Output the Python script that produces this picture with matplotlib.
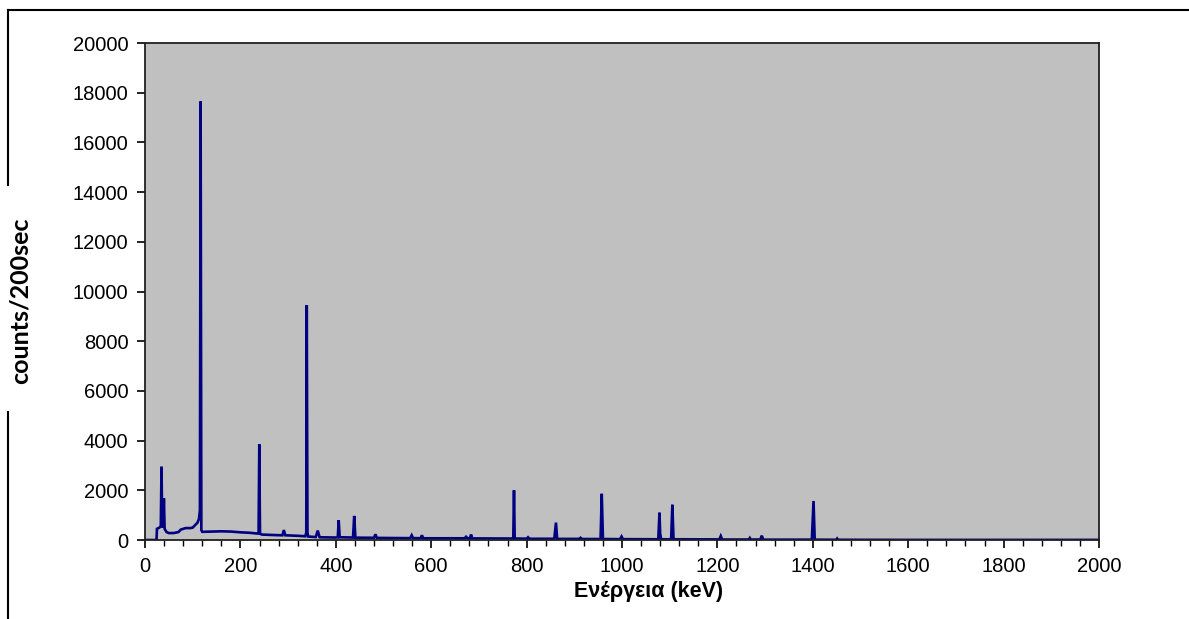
import matplotlib.pyplot as plt
from matplotlib.lines import Line2D
from matplotlib.ticker import MultipleLocator

# spectrum trace (energy in keV, counts per 200 s)
energy = [0, 24, 25, 30, 33, 34.5, 36, 38, 39.5, 41, 45, 50, 60, 70, 75, 85, 95,
          100, 105, 110, 113, 115, 116.5, 118, 120, 140, 160, 180, 200, 220, 236,
          238, 239.5, 241, 245, 270, 288, 291, 294, 320, 336, 338, 339, 340.5, 342,
          358, 362, 366, 400, 404, 406, 408, 436, 438.5, 441, 480, 483, 486, 556,
          559, 562, 578, 580.5, 583, 670, 673, 676, 681, 683.5, 686, 770, 772,
          773.5, 775, 800, 803, 806, 858, 861.5, 864, 910, 913, 916, 955, 957.5,
          960, 996, 999, 1002, 1076, 1078.5, 1080, 1082, 1103, 1105.5, 1108, 1204,
          1207, 1210, 1266, 1268, 1270, 1290, 1293, 1296, 1398, 1401.5, 1404, 1449,
          1451, 1453, 1600, 2000]
counts = [0, 0, 450, 500, 550, 2950, 600, 500, 1680, 450, 320, 280, 280, 320, 420,
          480, 480, 500, 600, 700, 850, 1200, 17650, 400, 330, 340, 350, 340, 310,
          290, 260, 280, 3850, 250, 220, 200, 190, 400, 190, 170, 150, 300, 9450,
          300, 140, 120, 380, 110, 100, 110, 800, 110, 100, 970, 95, 90, 230, 85,
          75, 190, 75, 75, 190, 70, 70, 130, 70, 70, 220, 65, 60, 80, 2000, 60, 55,
          110, 50, 50, 700, 45, 45, 90, 40, 40, 1860, 40, 35, 140, 35, 30, 1100,
          250, 30, 30, 1420, 30, 25, 160, 20, 20, 80, 20, 20, 175, 15, 15, 1570, 15,
          10, 60, 10, 5, 5]

x_ticks = list(range(0, 2001, 200))
y_ticks = list(range(0, 20001, 2000))

plt.rcParams['font.family'] = ['Liberation Sans', 'DejaVu Sans']

fig = plt.figure(figsize=(11.89, 6.19), dpi=100)
ax = fig.add_axes([0.122, 0.1276, 0.8023, 0.8029])
ax.set_facecolor('#C0C0C0')

ax.plot(energy, counts, color='#000080', lw=1.9, solid_joinstyle='miter')

ax.set_xlim(0, 2000)
ax.set_ylim(0, 20000)
ax.set_xticks(x_ticks)
ax.set_yticks(y_ticks)
ax.xaxis.set_minor_locator(MultipleLocator(40))
ax.tick_params(axis='both', which='major', direction='out', length=6, width=1.2,
               labelsize=14.5, colors='black', pad=6)
ax.tick_params(axis='x', which='minor', direction='out', length=4, width=1.0)
for s in ax.spines.values():
    s.set_linewidth(1.3)
    s.set_color('#202020')

ax.set_xlabel('Ενέργεια (keV)', fontsize=15.5, fontweight='bold')
ax.xaxis.set_label_coords(0.528, -0.082)

# outer chart frame, broken where the y label sits
fig.add_artist(Line2D([8 / 1189, 1.0], [1 - 9.5 / 619] * 2, color='black', lw=1.5,
                      transform=fig.transFigure))
fig.add_artist(Line2D([8 / 1189] * 2, [1 - 9.5 / 619, 1 - 185 / 619], color='black',
                      lw=1.5, transform=fig.transFigure))
fig.add_artist(Line2D([8 / 1189] * 2, [1 - 412 / 619, 0.0], color='black', lw=1.5,
                      transform=fig.transFigure))

fig.text(20 / 1189, 1 - 301 / 619, 'counts/200sec', rotation=90, ha='center',
         va='center', fontsize=18, fontweight='bold', family=['Lato', 'DejaVu Sans'])

fig.savefig('out.png', dpi=100)
